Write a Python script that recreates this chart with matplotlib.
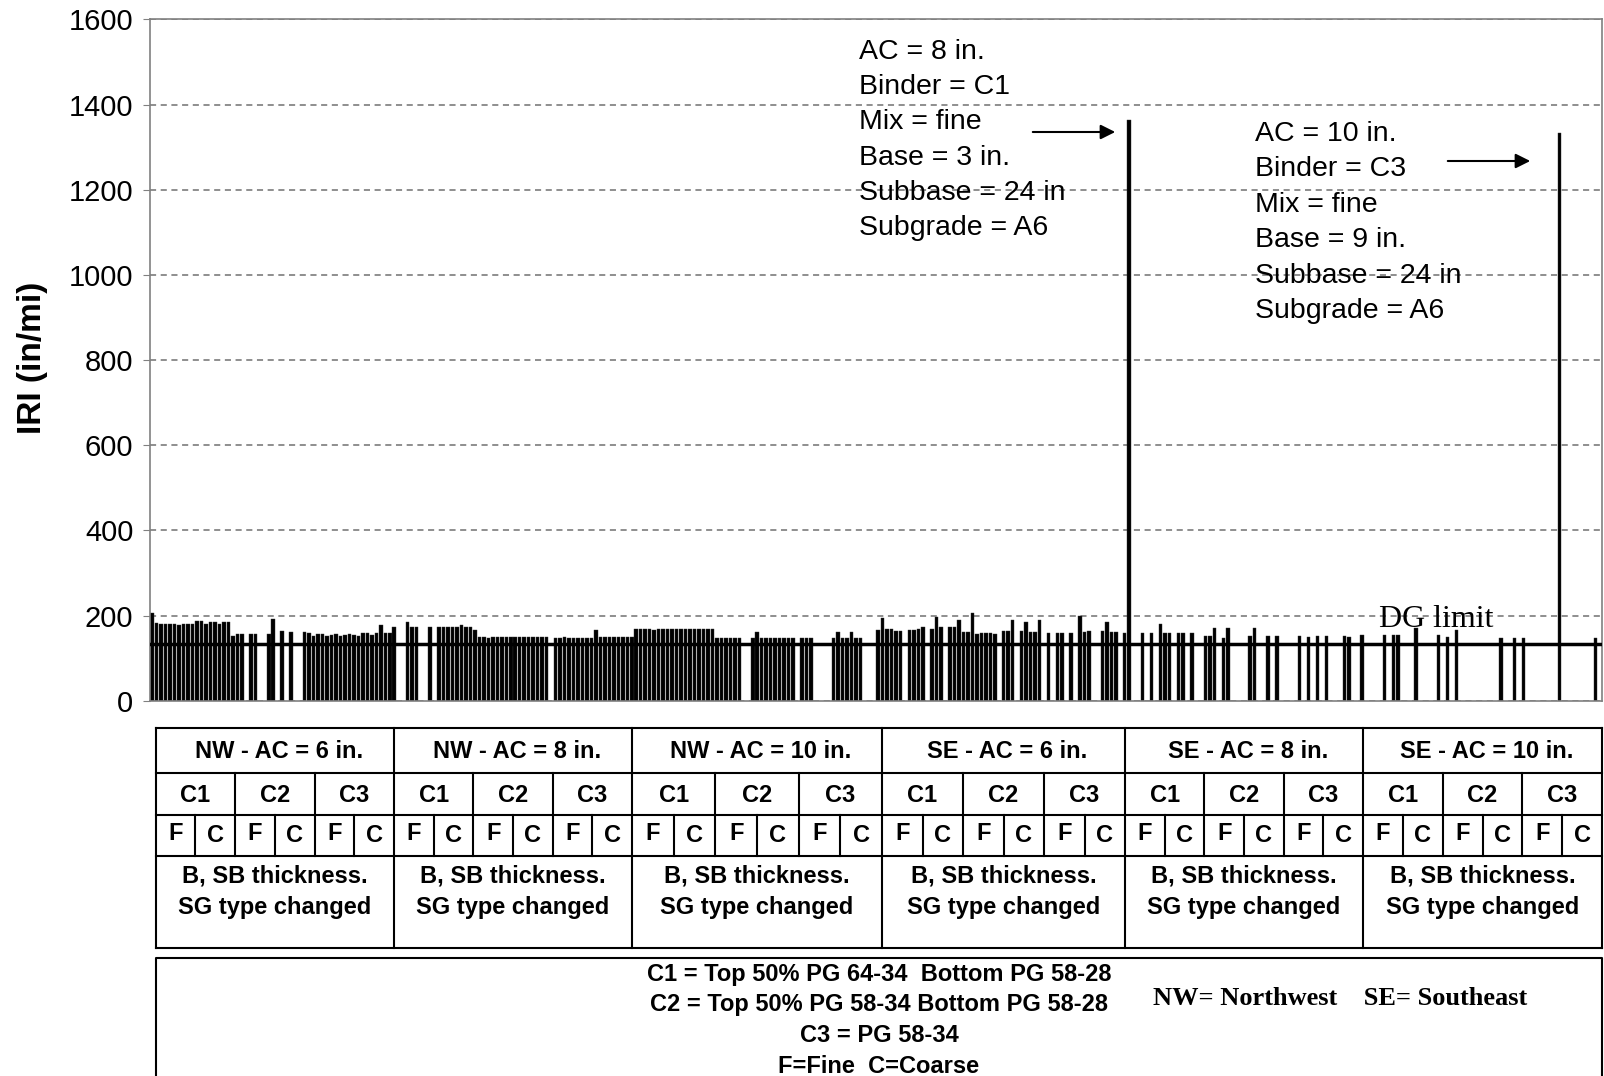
import numpy as np
import matplotlib.pyplot as plt

plt.rcParams['font.family'] = 'Liberation Sans'

nan = np.nan

# IRI (in/mi) per section, 54 bars per group (C1 F, C1 C, C2 F, C2 C, C3 F, C3 C x 9)
nw_ac6 = [205, 183, 181, 179, 181, 181, 178, 181, 181,
          181, 186, 188, 181, 185, 185, 181, 185, 185,
          152, 156, 157, nan, 157, 156, nan, nan, 156,
          192, nan, 164, nan, 162, nan, nan, 162, 158,
          152, 156, 157, 153, 155, 156, 153, 155, 156,
          155, 153, 159, 160, 154, 160, 178, 160, 160]
nw_ac8 = [172, nan, nan, 185, 174, 172, nan, nan, 172,
          nan, 174, 174, 172, 174, 174, 178, 174, 174,
          166, 150, 149, 148, 150, 150, 150, 149, 149,
          150, 150, 149, 150, 150, 149, 150, 150, nan,
          148, 148, 149, 148, 148, 148, 148, 148, 148,
          167, 150, 149, 150, 150, 149, 150, 150, 150]
nw_ac10 = [169, 168, 168, 168, 167, 168, 168, 169, 168,
           168, 169, 168, 168, 168, 168, 168, 169, 168,
           148, 148, 148, 148, 148, 148, nan, nan, 148,
           162, 148, 148, 148, 148, 148, 148, 148, 148,
           nan, 148, 148, 148, nan, nan, nan, nan, 148,
           162, 148, 148, 162, 148, 148, nan, nan, nan]
se_ac6 = [166, 195, 168, 168, 163, 163, nan, 167, 167,
          168, 172, nan, 168, 197, 172, nan, 172, 172,
          190, 161, 161, 206, 156, 158, 158, 158, 157,
          nan, 163, 164, 189, nan, 164, 184, 162, 162,
          189, nan, 158, nan, 158, 158, nan, 158, nan,
          199, 162, 164, nan, nan, 164, 184, 162, 162]
se_ac8 = [nan, 158, 1364, nan, nan, 158, nan, 158, nan,
          180, 158, 158, nan, 158, 158, nan, 158, nan,
          nan, 151, 151, 170, nan, 148, 170, nan, nan,
          nan, nan, 153, 171, nan, nan, 151, nan, 151,
          nan, nan, nan, nan, 151, nan, 149, nan, 151,
          nan, 151, nan, nan, nan, 151, 149, nan, nan]
se_ac10 = [154, nan, nan, nan, nan, 154, nan, 154, 154,
           nan, nan, nan, 171, nan, nan, nan, nan, 154,
           nan, 149, nan, 166, nan, nan, nan, nan, nan,
           nan, nan, nan, nan, 148, nan, nan, 148, nan,
           148, nan, nan, nan, nan, nan, nan, nan, 1333,
           nan, nan, nan, nan, nan, nan, nan, 148, nan]

dg_limit = 132

group_labels = ['NW - AC = 6 in.', 'NW - AC = 8 in.', 'NW - AC = 10 in.',
                'SE - AC = 6 in.', 'SE - AC = 8 in.', 'SE - AC = 10 in.']
binders = ['C1', 'C2', 'C3']
mixes = ['F', 'C']
note_lines = ['B, SB thickness.', 'SG type changed']
key_lines = ['C1 = Top 50% PG 64-34  Bottom PG 58-28',
             'C2 = Top 50% PG 58-34 Bottom PG 58-28',
             'C3 = PG 58-34',
             'F=Fine  C=Coarse']
ann1 = ['AC = 8 in.', 'Binder = C1', 'Mix = fine', 'Base = 3 in.',
        'Subbase = 24 in', 'Subgrade = A6']
ann2 = ['AC = 10 in.', 'Binder = C3', 'Mix = fine', 'Base = 9 in.',
        'Subbase = 24 in', 'Subgrade = A6']

iri = np.array(nw_ac6 + nw_ac8 + nw_ac10 + se_ac6 + se_ac8 + se_ac10, dtype=float)
x = np.arange(len(iri))

W, H = 1604, 1076
fig = plt.figure(figsize=(W / 100, H / 100), dpi=100)


def fx(px):
    return px / W


def fy(py):
    return 1 - py / H


ax = fig.add_axes([fx(150), fy(700.7), (1602 - 150) / W, 681.3 / H])
ax.bar(x, iri, width=0.78, color='black', edgecolor='#303030', lw=0.3, zorder=2)
ax.set_xlim(-0.5, len(iri) - 0.5)
ax.set_ylim(0, 1600)
ax.set_yticks(range(0, 1601, 200))
ax.set_xticks([])
ax.yaxis.grid(True, linestyle=(0, (4, 3)), color='#707070', lw=1.1)
ax.set_axisbelow(True)
for s in ax.spines.values():
    s.set_color('#808080')
    s.set_linewidth(1.2)
ax.tick_params(axis='y', direction='out', length=5, color='#808080',
               labelsize=21, pad=7)
ax.axhline(dg_limit, color='black', lw=2.5, zorder=3)
ax.text(286.6, 190, 'DG limit', family='Liberation Serif', fontsize=23,
        ha='center', va='center', zorder=4)

fig.text(fx(33), fy(358), 'IRI (in/mi)', rotation=90, fontsize=24,
         fontweight='bold', ha='center', va='center')

# annotations for the two outliers
for i, line in enumerate(ann1):
    fig.text(fx(859), fy(52 + i * 35.2), line, fontsize=20.5, va='center')
for i, line in enumerate(ann2):
    fig.text(fx(1255), fy(134 + i * 35.4), line, fontsize=20.5, va='center')
arrow = dict(arrowstyle='-|>', color='black', lw=1.5, mutation_scale=22)
fig.add_artist(plt.Annotation('', xy=(fx(1118), fy(132)), xytext=(fx(1030), fy(132)),
                              xycoords='figure fraction', arrowprops=arrow))
fig.add_artist(plt.Annotation('', xy=(fx(1533), fy(161)), xytext=(fx(1445), fy(161)),
                              xycoords='figure fraction', arrowprops=arrow))

# table under the chart, drawn in pixel coordinates
tab = fig.add_axes([0, 0, 1, 1], zorder=-1)
tab.set_xlim(0, W)
tab.set_ylim(H, 0)
tab.axis('off')
gx = [155.5, 394, 632, 882, 1125, 1363, 1602]
rows = [728, 773, 815, 856, 948]
lk = dict(color='black', lw=1.5)
for r in rows:
    tab.plot([gx[0], gx[-1]], [r, r], **lk)
for g in range(6):
    x0, x1 = gx[g], gx[g + 1]
    w = x1 - x0
    tab.plot([x0, x0], [rows[0], rows[-1]], **lk)
    tab.text((x0 + x1) / 2 + 4, 751, group_labels[g], fontsize=17, fontweight='bold',
             ha='center', va='center')
    for b in range(3):
        c0 = x0 + b * w / 3
        c1 = x0 + (b + 1) * w / 3
        if b > 0:
            tab.plot([c0, c0], [rows[1], rows[3]], **lk)
        tab.text((c0 + c1) / 2, 795, binders[b], fontsize=17, fontweight='bold',
                 ha='center', va='center')
        cm = (c0 + c1) / 2
        tab.plot([cm, cm], [rows[2], rows[3]], **lk)
        tab.text((c0 + cm) / 2, 834, mixes[0], fontsize=17, fontweight='bold',
                 ha='center', va='center')
        tab.text((cm + c1) / 2, 835, mixes[1], fontsize=17, fontweight='bold',
                 ha='center', va='center')
    for k, line in enumerate(note_lines):
        tab.text((x0 + x1) / 2, 876 + k * 31.7, line, fontsize=17, fontweight='bold',
                 ha='center', va='center')
tab.plot([gx[-1], gx[-1]], [rows[0], rows[-1]], **lk)

# key box
tab.plot([gx[0], gx[0], gx[-1], gx[-1]], [H + 5, 957.5, 957.5, H + 5], **lk)
for k, line in enumerate(key_lines):
    tab.text(879, 974 + k * 30.7, line, fontsize=17, fontweight='bold',
             ha='center', va='center')
tab.text(1340, 998.5, 'NW= Northwest    SE= Southeast', family='Liberation Serif',
         fontsize=19, fontweight='bold', ha='center', va='center')

fig.savefig('out.png', dpi=100)
